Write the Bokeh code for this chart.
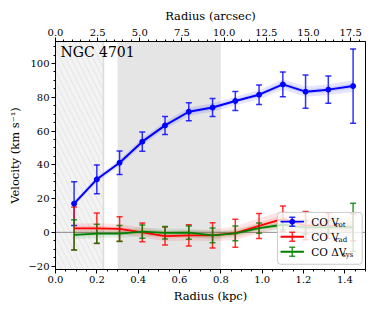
import numpy as np
from bokeh.plotting import figure
from bokeh.models import (Range1d, LinearAxis, FixedTicker, PrintfTickFormatter, Whisker,
                          TeeHead, ColumnDataSource, BoxAnnotation, Span, Label)
from bokeh.core.properties import value
from bokeh.embed import file_html
from bokeh.resources import INLINE

# ---- data ----
radius_kpc = [0.09, 0.20, 0.31, 0.42, 0.53, 0.645, 0.76, 0.87, 0.985, 1.10, 1.21, 1.32, 1.44]
vrot = [17.0, 31.4, 41.2, 53.7, 63.3, 71.4, 73.9, 77.8, 81.5, 87.6, 83.3, 84.5, 86.6]
vrot_err = [13.0, 8.5, 7.0, 5.7, 5.3, 5.3, 5.3, 5.6, 5.8, 7.3, 9.8, 8.0, 22.0]
vrot_spread = [1.5, 1.8, 2.0, 2.2, 2.2, 2.5, 2.5, 2.5, 2.8, 3.0, 3.0, 3.2, 3.5]
vrad = [2.3, 2.4, 2.0, 0.0, -2.2, -1.8, -1.8, -0.5, 3.8, 8.0, 4.0, 4.0, 3.0]
vrad_err = [12.7, 9.0, 7.2, 5.6, 5.3, 6.3, 7.5, 8.3, 7.4, 7.6, 8.4, 7.5, 8.0]
vrad_spread = [3.0, 3.0, 3.0, 3.0, 3.0, 3.0, 3.5, 4.0, 4.5, 5.0, 6.0, 6.0, 6.0]
dvsys = [-1.5, -0.8, -0.7, 0.4, -0.3, -0.2, -1.8, -0.6, 2.5, 4.5, 3.0, 3.0, 3.0]
dvsys_err = [9.0, 5.6, 4.7, 3.9, 3.7, 3.9, 4.3, 4.4, 3.1, 3.0, 4.0, 4.0, 14.2]
dvsys_spread = [2.5, 2.5, 2.5, 2.5, 2.5, 2.5, 2.5, 2.5, 2.5, 3.0, 3.0, 3.0, 3.5]

hatched_kpc = (0.0, 0.232)
gray_kpc = (0.30, 0.80)
kpc_per_arcsec = 0.0816

x_ticks = [0.0, 0.2, 0.4, 0.6, 0.8, 1.0, 1.2, 1.4]
y_ticks = [-20, 0, 20, 40, 60, 80, 100]
top_ticks = [0.0, 2.5, 5.0, 7.5, 10.0, 12.5, 15.0, 17.5]

series_labels = [("CO V", "rot"), ("CO V", "rad"), ("CO ΔV", "sys")]
series_colors = ["#0000ff", "#ff0000", "#008000"]

FONT = "'DejaVu Serif'"

x_range = Range1d(0.0, 1.5)
y_range = Range1d(-22.0, 113.0)

p = figure(width=372, height=307, x_range=x_range, y_range=y_range,
           output_backend="svg", toolbar_location=None,
           min_border_left=55, min_border_right=7, min_border_top=41, min_border_bottom=38)
p.xgrid.visible = False
p.ygrid.visible = False
p.outline_line_color = "black"
p.outline_line_width = 1
p.background_fill_color = "white"
p.border_fill_color = "white"

def style_axis(ax, label_size="10px"):
    ax.axis_line_color = "black"
    ax.major_tick_line_color = "black"
    ax.minor_tick_line_color = "black"
    ax.major_tick_out = 4
    ax.major_tick_in = 0
    ax.minor_tick_out = 2
    ax.minor_tick_in = 0
    ax.major_label_text_font = FONT
    ax.major_label_text_font_size = label_size
    ax.major_label_text_color = "black"
    ax.axis_label_text_font = FONT
    ax.axis_label_text_font_size = "11.5px"
    ax.axis_label_text_font_style = "normal"
    ax.axis_label_text_color = "black"
    ax.major_label_standoff = 2
    ax.axis_label_standoff = 3

# bottom axis
xa = p.xaxis[0]
xa.ticker = FixedTicker(ticks=x_ticks, minor_ticks=list(np.round(np.arange(0, 1.5001, 0.05), 3)))
xa.formatter = PrintfTickFormatter(format="%.1f")
xa.axis_label = "Radius (kpc)"
style_axis(xa)

# left axis
ya = p.yaxis[0]
ya.ticker = FixedTicker(ticks=y_ticks, minor_ticks=list(range(-20, 115, 5)))
ya.major_label_overrides = {-20: "−20"}
ya.axis_label = "Velocity (km s⁻¹)"
style_axis(ya)

# top axis in arcsec
p.extra_x_ranges = {"arcsec": Range1d(0.0, x_range.end / kpc_per_arcsec)}
ta = LinearAxis(x_range_name="arcsec")
ta.ticker = FixedTicker(ticks=top_ticks, minor_ticks=list(np.round(np.arange(0, 18.4, 0.5), 2)))
ta.formatter = PrintfTickFormatter(format="%.1f")
ta.axis_label = "Radius (arcsec)"
style_axis(ta)
p.add_layout(ta, "above")

# shaded regions
hatch_box = BoxAnnotation(left=hatched_kpc[0], right=hatched_kpc[1], level="underlay",
                          fill_color="#f3f3f3", fill_alpha=1.0, line_alpha=0.0,
                          hatch_pattern="\\", hatch_color="#dadada", hatch_scale=11,
                          hatch_weight=0.6)
p.add_layout(hatch_box)
edge = Span(location=hatched_kpc[1], dimension="height", line_color="#dcdcdc",
            line_width=1.5, level="underlay")
p.add_layout(edge)
gray_box = BoxAnnotation(left=gray_kpc[0], right=gray_kpc[1], level="underlay",
                         fill_color="#e5e5e5", fill_alpha=1.0, line_alpha=0.0)
p.add_layout(gray_box)

zero = Span(location=0, dimension="width", line_color="#808080", line_width=0.9,
            level="underlay")
p.add_layout(zero)

series = [(vrot, vrot_err, vrot_spread), (vrad, vrad_err, vrad_spread),
          (dvsys, dvsys_err, dvsys_spread)]

x = np.array(radius_kpc)
for (vals, errs, spread), col in zip(series, series_colors):
    v = np.array(vals)
    e = np.array(errs)
    src = ColumnDataSource(dict(x=x, lower=v - e, upper=v + e))
    w = Whisker(source=src, base="x", lower="lower", upper="upper", dimension="height",
                line_color=col, line_width=1.5, line_alpha=0.8, level="underlay",
                lower_head=TeeHead(size=6, line_color=col, line_width=1.5, line_alpha=0.8),
                upper_head=TeeHead(size=6, line_color=col, line_width=1.5, line_alpha=0.8))
    p.add_layout(w)

for (vals, errs, spread), col in zip(series, series_colors):
    v = np.array(vals)
    s = np.array(spread)
    p.varea(x=x, y1=v - s, y2=v + s, fill_color=col, fill_alpha=0.10)
    p.varea(x=x, y1=v - 0.45 * s, y2=v + 0.45 * s, fill_color=col, fill_alpha=0.10)

for i, ((vals, errs, spread), col) in enumerate(zip(series, series_colors)):
    p.line(x, vals, line_color=col, line_width=2.0 if i == 0 else 1.8)
    if i == 0:
        p.scatter(x, vals, size=5, fill_color=col, line_color=col)

# ---- legend (drawn by hand so that subscripts are possible) ----
leg_left, leg_right, leg_top, leg_bottom = 1.074, 1.484, 11.8, -18.9
p.quad(left=[leg_left], right=[leg_right], top=[leg_top], bottom=[leg_bottom],
       fill_color="white", fill_alpha=0.8, line_color="#cccccc", line_width=1,
       border_radius=3)
row_y = [6.3, -2.6, -11.5]
sym_x0, sym_x1 = 1.089, 1.202
sym_xc = 0.5 * (sym_x0 + sym_x1)
text_x = 1.237
sub_offsets = [24, 24, 31]
for (main, sub), col, yy in zip(series_labels, series_colors, row_y):
    pass
for (main, sub), col, yy, off in zip(series_labels, series_colors, row_y, sub_offsets):
    p.segment(x0=[sym_x0], x1=[sym_x1], y0=[yy], y1=[yy], line_color=col, line_width=1.8)
    p.segment(x0=[sym_xc], x1=[sym_xc], y0=[yy - 2.7], y1=[yy + 2.7], line_color=col,
              line_width=1.5, line_alpha=0.8)
    p.scatter(x=[sym_xc, sym_xc], y=[yy - 2.7, yy + 2.7], marker="dash", size=6,
              line_color=col, line_width=1.5, line_alpha=0.8)
    if col == series_colors[0]:
        p.scatter(x=[sym_xc], y=[yy], size=5, fill_color=col, line_color=col)
    p.text(x=[text_x], y=[yy], text=[main], text_font=value(FONT), text_font_size="10.5px",
           text_baseline="middle", text_color="black")
    p.text(x=[text_x], y=[yy - 2.0], text=[sub], text_font=value(FONT),
           text_font_size="7px", text_baseline="middle", text_color="black", x_offset=off)

title = Label(x=0.024, y=106.7, text="NGC 4701", text_font=FONT, text_font_size="14px",
              text_baseline="alphabetic", text_color="black")
p.add_layout(title)

open("out.html", "w").write(file_html(p, INLINE))
